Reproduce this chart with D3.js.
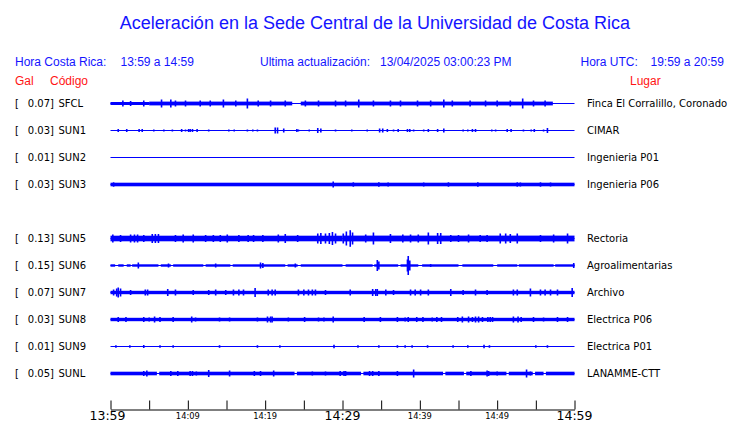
<!DOCTYPE html>
<html><head><meta charset="utf-8">
<script src="https://cdn.jsdelivr.net/npm/d3@7"></script>
<style>
html,body{margin:0;padding:0;background:#fff;}
svg{display:block;}
</style></head>
<body>
<svg id="chart" width="740" height="423"></svg>
<script>
// ---- Data ----
const title = "Aceleración en la Sede Central de la Universidad de Costa Rica";
const codes = ["SFCL","SUN1","SUN2","SUN3","SUN5","SUN6","SUN7","SUN8","SUN9","SUNL"];
const rowSlots = [0,1,2,3,5,6,7,8,9,10];
const galValues = ["0.07","0.03","0.01","0.03","0.13","0.15","0.07","0.03","0.01","0.05"];
const places = ["Finca El Corralillo, Coronado","CIMAR","Ingenieria P01","Ingenieria P06","Rectoria","Agroalimentarias","Archivo","Electrica P06","Electrica P01","LANAMME-CTT"];
const tickMinutes = [0,5,10,15,20,25,30,35,40,45,50,55,60];
const tickLabels = {0:"13:59",10:"14:09",20:"14:19",30:"14:29",40:"14:39",50:"14:49",60:"14:59"};
const bigLabels = [0,30,60];

// band segments: [startMinute, endMinute, relative amplitude]
const sfclBand = [[0,5,15],[5,23.5,19],[24.6,57.2,19]];
const sun1Band = [];
const sun2Band = [];
const sun3Band = [[0,60,18]];
const sun5Band = [[0,30,28],[30,60,29]];
const sun6Band = [[0,0.6,12],[1.0,1.7,12],[2.1,2.6,12],[2.8,6.2,12],[6.5,7.8,12],[8.1,12.0,12],[12.3,15.5,12],[15.8,22.6,12],[22.9,24.2,12],[24.6,30.0,12],[30.4,33.9,12],[34.1,37.2,12],[37.5,39.8,12],[40.3,45.0,12],[45.5,49.5,12],[50.0,52.6,12],[52.8,57.3,12],[57.5,60,12]];
const sun7Band = [[0,60,17]];
const sun8Band = [[0,60,17]];
const sun9Band = [];
const sunlBand = [[0,6.0,18],[6.3,23.8,18],[24.1,32.4,18],[32.7,43.0,18],[43.3,45.7,18],[46.0,51.2,18],[51.5,54.6,18],[54.9,56.0,18],[56.3,60,18]];

// spikes: [minute, relative amplitude]
const sfclSpikes = [[1.6,30],[2.6,25],[4.3,30],[6.6,40],[7.8,40],[8.4,30],[9.7,30],[11.6,30],[12.9,30],[14.6,40],[16.2,30],[17.7,50],[19.1,30],[20.7,30],[22.6,30],[25.2,30],[26.9,30],[29.1,30],[30.4,30],[32.1,40],[34.0,30],[36.2,30],[37.5,30],[39.7,30],[41.4,30],[43.1,40],[44.2,30],[46.5,30],[48.5,30],[50.0,30],[51.7,30],[53.3,50],[54.7,30],[56.2,30]];
const sun1Spikes = [[1.0,15],[2.1,15],[3.7,15],[4.1,15],[5.6,10],[6.9,10],[8.0,10],[9.2,15],[9.7,10],[10.1,15],[10.3,15],[10.6,15],[11.2,15],[12.7,10],[15.3,10],[16.0,10],[17.7,10],[18.4,10],[19.0,10],[21.3,30],[21.6,30],[22.4,20],[24.1,15],[24.3,10],[25.7,10],[26.8,25],[27.2,20],[29.1,10],[31.2,10],[33.2,10],[34.8,20],[35.2,20],[35.8,15],[36.6,10],[37.2,15],[38.4,15],[38.7,15],[39.2,10],[40.5,10],[41.1,15],[42.3,15],[43.1,20],[45.6,10],[46.2,10],[46.8,15],[47.2,15],[49.3,10],[49.8,10],[51.3,15],[51.8,15],[53.4,10],[54.4,10],[54.8,15],[56.0,10],[56.5,25]];
const sun2Spikes = [];
const sun3Spikes = [[0.4,22],[28.8,30],[31.4,22],[34.7,22],[35.9,20],[40.5,20],[43.7,22],[47.5,22],[52.6,22],[53.0,20],[55.6,22],[56.9,20]];
const sun5Spikes = [[0.3,40],[1.3,35],[2.6,40],[3.1,40],[3.5,40],[4.3,35],[5.4,45],[5.8,45],[6.2,45],[8.4,35],[9.4,40],[10.7,40],[12.3,35],[13.3,35],[14.2,35],[15.1,40],[16.6,35],[17.8,35],[18.5,35],[19.7,35],[21.7,40],[22.6,45],[24.2,35],[26.8,50],[27.2,55],[27.8,50],[28.3,55],[28.7,65],[29.1,50],[30.1,50],[30.5,70],[31.0,83],[31.3,60],[33.0,40],[34.0,60],[36.2,45],[37.8,40],[38.8,40],[39.8,40],[41.1,60],[42.3,55],[42.7,55],[44.0,35],[45.0,35],[46.3,40],[47.8,35],[48.7,35],[50.4,50],[51.1,50],[51.7,45],[52.6,50],[55.6,35],[57.3,40],[59.1,50]];
const sun6Spikes = [[3.6,30],[7.5,20],[13.6,20],[19.4,30],[19.7,25],[23.9,20],[34.5,55],[34.7,40],[38.4,60],[38.5,95],[38.7,50],[41.4,15],[59.9,25]];
const sun7Spikes = [[0.4,30],[0.8,40],[1.0,50],[1.3,40],[2.6,25],[4.5,30],[4.8,30],[7.4,35],[8.4,30],[10.7,25],[12.7,25],[13.6,30],[14.9,25],[15.9,30],[16.6,30],[17.2,30],[18.7,45],[20.4,30],[20.9,30],[21.3,30],[24.3,30],[25.0,30],[25.6,30],[26.1,30],[26.5,30],[27.8,25],[31.0,30],[33.9,35],[34.3,35],[34.5,35],[35.6,30],[36.6,25],[38.8,30],[39.4,30],[40.1,30],[41.1,30],[44.0,35],[45.6,25],[47.2,30],[48.7,25],[52.1,30],[52.6,30],[54.3,40],[55.6,30],[56.2,30],[56.9,30],[57.8,30],[59.7,45]];
const sun8Spikes = [[1.0,25],[2.0,25],[4.3,25],[5.0,20],[5.7,30],[6.4,25],[8.1,25],[10.5,30],[11.0,20],[14.1,20],[15.4,20],[19.0,20],[20.3,30],[20.7,30],[20.9,30],[23.0,20],[25.1,25],[26.9,20],[27.6,20],[28.8,30],[32.8,25],[34.9,25],[37.1,25],[38.1,20],[38.5,25],[39.6,25],[40.4,25],[41.6,20],[42.2,25],[42.8,25],[44.9,25],[45.5,30],[46.3,30],[46.8,25],[47.2,30],[47.6,30],[48.1,25],[48.8,25],[49.1,25],[49.4,25],[52.1,30],[52.7,30],[53.1,25],[54.7,25],[56.0,20],[57.8,25],[59.1,25]];
const sun9Spikes = [[0.7,13],[2.5,13],[4.3,15],[6.4,13],[8.1,13],[14.1,13],[19.0,13],[21.9,13],[28.9,18],[32.0,13],[34.7,13],[37.1,13],[38.1,13],[39.0,13],[41.0,13],[44.3,13],[46.2,13],[48.3,18],[49.0,13],[55.0,13],[56.5,13]];
const sunlSpikes = [[4.3,25],[4.7,30],[7.8,25],[8.7,25],[10.3,25],[10.6,25],[11.1,20],[12.7,35],[15.4,30],[18.6,25],[19.4,25],[21.1,30],[26.1,20],[27.8,20],[29.7,25],[30.2,25],[30.4,25],[33.5,25],[33.9,25],[34.7,25],[37.1,25],[39.2,40],[46.6,25],[48.7,30],[48.9,25],[50.0,20],[53.8,40],[54.3,20]];

const bandsList = [sfclBand,sun1Band,sun2Band,sun3Band,sun5Band,sun6Band,sun7Band,sun8Band,sun9Band,sunlBand];
const spikesList = [sfclSpikes,sun1Spikes,sun2Spikes,sun3Spikes,sun5Spikes,sun6Spikes,sun7Spikes,sun8Spikes,sun9Spikes,sunlSpikes];

// ---- Drawing ----
const blue = "#1414ff", trace = "#0000ff", red = "#ff1414";
const svg = d3.select("#chart");
const sans = "'Liberation Sans', Arial, Helvetica, sans-serif";
const dv = "'DejaVu Sans', sans-serif";

const x = d3.scaleLinear().domain([0,60]).range([110.5,574.5]);
const y = d3.scaleLinear().domain([0,10]).range([103.5,373.5]);
const amp = d3.scaleLinear().domain([0,100]).range([0,10]);

svg.append("text").attr("x",375).attr("y",29).attr("text-anchor","middle")
  .attr("font-family",sans).attr("font-size",18).attr("fill",blue).text(title);

const hdr = [["Hora Costa Rica:",15],["13:59 a 14:59",120.5],["Ultima actualización:",260],["13/04/2025 03:00:23 PM",380],["Hora UTC:",580.5],["19:59 a 20:59",650.5]];
svg.selectAll("text.hdr").data(hdr).join("text").attr("class","hdr")
  .attr("x",d=>d[1]).attr("y",66).attr("font-family",sans).attr("font-size",12).attr("fill",blue).text(d=>d[0]);
const red_hdr = [["Gal",15],["Código",50],["Lugar",630]];
svg.selectAll("text.rh").data(red_hdr).join("text").attr("class","rh")
  .attr("x",d=>d[1]).attr("y",85).attr("font-family",sans).attr("font-size",12).attr("fill",red).text(d=>d[0]);

const rows = codes.map((c,i)=>({code:c,slot:rowSlots[i],gal:galValues[i],place:places[i],band:bandsList[i],spikes:spikesList[i]}));

const g = svg.selectAll("g.row").data(rows).join("g").attr("class","row");
g.append("text").attr("x",15).attr("y",d=>y(d.slot)+3.6).attr("font-family",dv).attr("font-size",10).attr("fill","#000").text("[");
g.append("text").attr("x",54).attr("y",d=>y(d.slot)+3.6).attr("text-anchor","end").attr("font-family",dv).attr("font-size",10).attr("fill","#000").text(d=>d.gal+"]");
g.append("text").attr("x",58.5).attr("y",d=>y(d.slot)+3.6).attr("font-family",dv).attr("font-size",10).attr("fill","#000").text(d=>d.code);
g.append("text").attr("x",587).attr("y",d=>y(d.slot)+3.6).attr("font-family",dv).attr("font-size",10).attr("fill","#000").text(d=>d.place);

g.append("line").attr("x1",x(0)).attr("x2",x(60)).attr("y1",d=>y(d.slot)).attr("y2",d=>y(d.slot))
  .attr("stroke",trace).attr("stroke-width",1.2);
g.each(function(d){
  const sel = d3.select(this);
  sel.selectAll("rect.band").data(d.band).join("rect").attr("class","band")
    .attr("x",b=>x(b[0])).attr("width",b=>x(b[1])-x(b[0]))
    .attr("y",b=>y(d.slot)-amp(b[2])).attr("height",b=>2*amp(b[2])).attr("fill",trace);
  sel.selectAll("line.sp").data(d.spikes).join("line").attr("class","sp")
    .attr("x1",s=>x(s[0])).attr("x2",s=>x(s[0]))
    .attr("y1",s=>y(d.slot)-amp(s[1])).attr("y2",s=>y(d.slot)+amp(s[1]))
    .attr("stroke",trace).attr("stroke-width",1.6);
});

// axis
const axisG = svg.append("g").attr("transform","translate(0,409.5)");
axisG.call(d3.axisBottom(x).tickValues(tickMinutes).tickSizeInner(-9).tickSizeOuter(0).tickFormat(""));
axisG.select(".domain").attr("stroke","#000");
axisG.selectAll(".tick line").attr("stroke","#000");
axisG.selectAll(".tick text").remove();
axisG.selectAll("text.tl").data(tickMinutes.filter(m=>tickLabels[m])).join("text").attr("class","tl")
  .attr("x",m=>x(m) - (m===0?3:0)).attr("y",m=>bigLabels.includes(m)?10:9.5)
  .attr("text-anchor","middle")
  .attr("font-family",dv)
  .attr("font-size",m=>bigLabels.includes(m)?12.5:8.3)
  .attr("fill","#000").text(m=>tickLabels[m]);
</script>
</body></html>
